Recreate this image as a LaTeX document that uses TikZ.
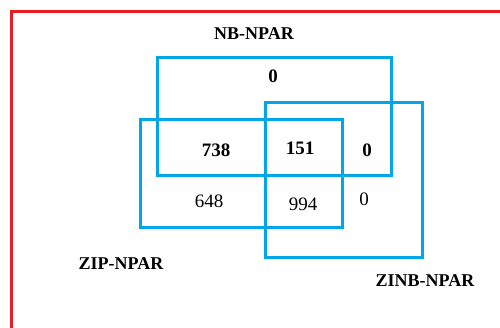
\documentclass[tikz,border=0pt]{standalone}
\usepackage{fontspec}
\setmainfont{Liberation Serif}
\definecolor{frame}{RGB}{237,28,36}
\definecolor{setblue}{RGB}{0,166,232}
\begin{document}
\begin{tikzpicture}[x=1pt,y=-1pt,
  setbox/.style={draw=setblue,line width=3pt},
  setname/.style={font=\fontsize{18}{18}\selectfont\bfseries},
  cnt/.style={font=\fontsize{19}{19}\selectfont},
  cntb/.style={font=\fontsize{19}{19}\selectfont\bfseries}]
  \useasboundingbox (0,0) rectangle (500,327);
  \begin{scope}
    \clip (0,0) rectangle (500,327);
    \draw[frame,line width=3pt] (11,11) rectangle (520,350);
  \end{scope}
  % the three sets
  \draw[setbox] (157,57) rectangle (391,175);
  \draw[setbox] (265,102) rectangle (422,257);
  \draw[setbox] (140,119) rectangle (342,227);
  % set names
  \node[setname] (nb) at (254,34) {NB-NPAR};
  \node[setname] (zip) at (121,264) {ZIP-NPAR};
  \node[setname] (zinb) at (425,281) {ZINB-NPAR};
  % region counts
  \node[cntb] (nbonly) at (273,76) {0};
  \node[cntb] (nbzip) at (216,150) {738};
  \node[cntb] (all) at (300,148) {151};
  \node[cntb] (nbzinb) at (367,150) {0};
  \node[cnt] (ziponly) at (209,201) {648};
  \node[cnt] (zipzinb) at (303,204) {994};
  \node[cnt] (zinbonly) at (364,199) {0};
\end{tikzpicture}
\end{document}
